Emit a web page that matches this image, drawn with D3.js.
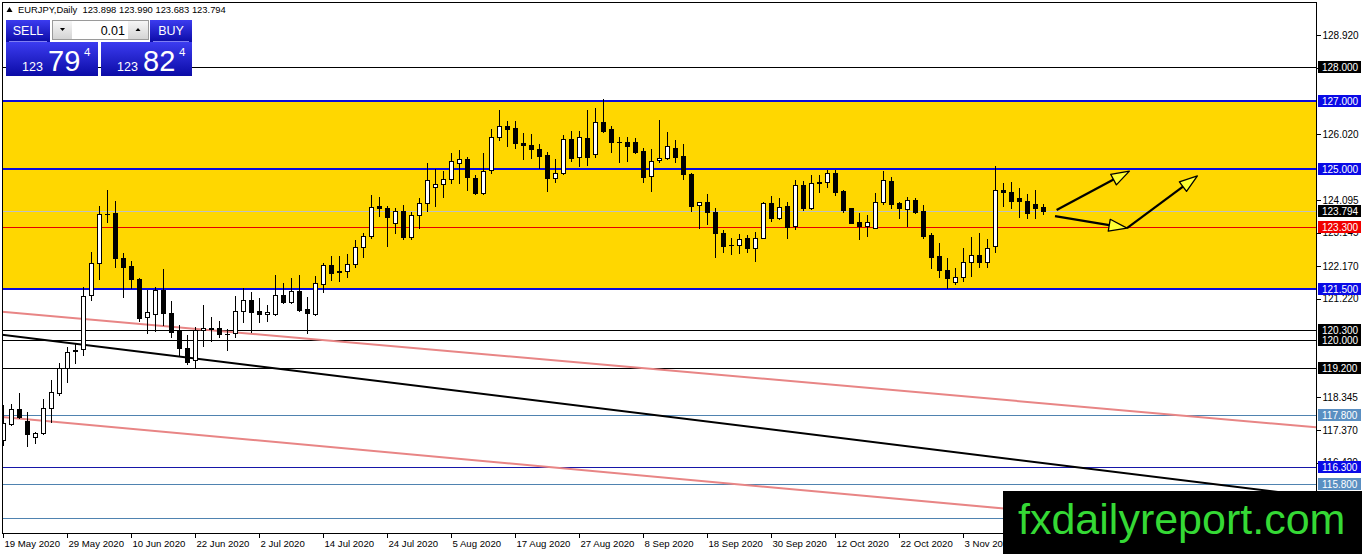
<!DOCTYPE html>
<html>
<head>
<meta charset="utf-8">
<script src="https://d3js.org/d3.v7.min.js"></script>
<style>
body { margin: 0; background: #fff; overflow: hidden; }
svg { display: block; font-family: "Liberation Sans", Arial, sans-serif; }
</style>
</head>
<body>
<svg id="chart" width="1362" height="554"></svg>
<script>
// EURJPY daily, one candle per trading day starting 19 May 2020
var dateLabels = ['19 May 2020', '29 May 2020', '10 Jun 2020', '22 Jun 2020', '2 Jul 2020', '14 Jul 2020',
	'24 Jul 2020', '5 Aug 2020', '17 Aug 2020', '27 Aug 2020', '8 Sep 2020', '18 Sep 2020',
	'30 Sep 2020', '12 Oct 2020', '22 Oct 2020', '3 Nov 2020'];

var opens = [117.08, 117.54, 117.98, 117.65, 117.16, 117.28, 118.01, 118.45, 119.18, 119.70,
	119.74, 121.32, 122.25, 123.68, 123.71, 122.40, 122.17, 121.78, 120.67, 120.76,
	121.47, 120.79, 120.27, 119.76, 119.42, 120.30, 120.33, 120.35, 120.17, 120.20,
	120.86, 121.18, 120.86, 120.77, 120.76, 121.32, 121.13, 121.44, 120.91, 120.76,
	121.64, 122.20, 121.99, 122.03, 122.22, 122.72, 123.05, 123.93, 123.88, 123.42,
	123.78, 123.03, 123.66, 124.01, 124.49, 124.56, 124.71, 125.19, 125.29, 124.76,
	124.30, 124.98, 125.94, 126.27, 126.20, 125.78, 125.71, 125.60, 125.42, 124.74,
	124.88, 125.89, 125.35, 125.91, 125.44, 126.38, 126.18, 125.81, 125.79, 125.79,
	125.54, 124.80, 125.27, 125.32, 125.62, 125.38, 124.86, 123.95, 124.04, 123.76,
	123.15, 122.79, 122.79, 122.98, 122.71, 123.00, 124.01, 123.57, 123.93, 123.35,
	124.54, 123.88, 124.62, 124.62, 124.88, 124.37, 123.86, 123.45, 123.35, 123.29,
	124.04, 124.66, 124.01, 123.83, 124.10, 123.78, 123.08, 122.46, 122.05, 121.70,
	121.86, 122.30, 122.49, 122.30, 122.77, 124.40, 124.35, 124.15, 124.07, 123.98,
	123.898];
var highs = [118.10, 118.13, 118.45, 117.89, 117.32, 118.28, 118.84, 119.33, 119.81, 119.91,
	121.57, 122.57, 123.93, 124.40, 124.07, 122.54, 122.32, 121.83, 121.47, 121.57,
	122.08, 121.16, 120.45, 120.15, 120.40, 121.03, 120.69, 120.56, 120.33, 121.30,
	121.52, 121.42, 121.24, 121.03, 121.91, 121.67, 121.81, 121.91, 121.27, 121.88,
	122.25, 122.46, 122.46, 122.52, 122.93, 123.15, 124.25, 124.18, 123.93, 123.86,
	123.96, 123.76, 124.15, 125.19, 125.00, 124.96, 125.47, 125.57, 125.37, 124.83,
	125.49, 126.17, 126.74, 126.42, 126.42, 126.05, 126.03, 125.73, 125.52, 125.30,
	126.01, 126.12, 126.12, 126.74, 126.80, 127.06, 126.28, 125.96, 125.96, 125.93,
	125.62, 125.59, 126.44, 126.10, 125.86, 125.73, 124.88, 124.05, 124.27, 123.88,
	123.23, 123.00, 123.10, 123.08, 123.18, 124.05, 124.22, 124.15, 124.04, 124.69,
	124.66, 124.83, 124.83, 124.98, 124.98, 124.40, 123.88, 123.71, 123.66, 124.30,
	124.95, 124.79, 124.05, 124.20, 124.17, 123.96, 123.13, 122.84, 122.42, 122.10,
	122.69, 123.03, 123.13, 122.96, 125.11, 124.59, 124.64, 124.46, 124.27, 124.40,
	123.990];
var lows = [116.93, 117.52, 117.72, 116.91, 117.00, 117.26, 117.62, 118.40, 118.79, 119.34,
	119.57, 121.18, 121.79, 123.47, 122.15, 121.27, 121.52, 120.56, 120.20, 120.28,
	120.45, 120.09, 119.57, 119.30, 119.23, 119.84, 119.99, 120.10, 119.73, 120.10,
	120.52, 120.23, 120.54, 120.56, 120.74, 121.10, 121.08, 120.86, 120.20, 120.74,
	121.40, 121.76, 121.73, 121.86, 122.15, 122.43, 123.00, 123.64, 122.77, 123.15,
	122.95, 122.95, 123.27, 123.78, 123.93, 124.20, 124.59, 124.61, 124.40, 124.28,
	124.28, 124.90, 125.86, 125.68, 125.63, 125.29, 125.32, 125.05, 124.38, 124.62,
	124.86, 125.24, 125.10, 125.13, 125.35, 126.10, 125.52, 125.22, 125.24, 125.47,
	124.64, 124.38, 125.22, 125.30, 125.22, 124.71, 123.78, 123.27, 123.39, 122.44,
	122.59, 122.51, 122.54, 122.57, 122.33, 122.98, 123.49, 123.55, 122.98, 123.25,
	123.81, 123.84, 124.33, 124.47, 124.25, 123.76, 123.42, 122.95, 123.06, 123.27,
	123.98, 123.88, 123.59, 123.35, 123.71, 123.00, 122.10, 121.86, 121.52, 121.64,
	121.73, 121.89, 122.15, 122.15, 122.59, 123.94, 123.88, 123.61, 123.59, 123.57,
	123.683];
var closes = [117.58, 117.98, 117.75, 117.25, 117.28, 118.01, 118.48, 119.18, 119.66, 119.72,
	121.30, 122.25, 123.68, 123.70, 122.40, 122.15, 121.78, 120.66, 120.82, 121.47,
	120.79, 120.23, 119.76, 119.35, 120.30, 120.37, 120.35, 120.17, 120.19, 120.86,
	121.18, 120.83, 120.76, 120.83, 121.32, 121.13, 121.44, 120.88, 120.81, 121.67,
	122.20, 121.98, 122.03, 122.22, 122.72, 123.05, 123.91, 123.86, 123.61, 123.78,
	123.03, 123.66, 124.01, 124.69, 124.56, 124.71, 125.24, 125.29, 124.79, 124.30,
	124.95, 125.94, 126.27, 126.17, 125.76, 125.70, 125.59, 125.40, 124.74, 124.88,
	125.89, 125.34, 125.94, 125.35, 126.38, 126.12, 125.81, 125.80, 125.69, 125.52,
	124.79, 125.25, 125.32, 125.69, 125.37, 124.86, 123.94, 124.04, 123.74, 123.13,
	122.77, 122.80, 122.96, 122.71, 123.00, 124.01, 123.57, 123.91, 123.32, 124.54,
	123.86, 124.59, 124.59, 124.88, 124.35, 123.81, 123.44, 123.35, 123.45, 124.04,
	124.69, 123.98, 123.86, 124.10, 123.76, 123.05, 122.44, 122.05, 121.81, 121.86,
	122.30, 122.49, 122.30, 122.69, 124.40, 124.35, 124.08, 124.07, 123.71, 123.88,
	123.794];

// price scale labels left visible by the level tags
var axisTicks = [128.920, 127.970, 126.020, 124.095, 123.145, 122.170,
	121.220, 118.345, 117.370, 116.420];

// horizontal objects on the chart
var zone = [121.5, 127.0];
var blueLevels = [127.0, 125.0, 121.5];
var blackLevels = [128.0, 120.3, 120.0, 119.2];
var steelLevels = [117.8, 115.8, 114.8];
var navyLevels = [116.3];
var redLevel = 123.3;
var bidPrice = 123.794;

// trend lines and arrows as [bar index, price] points
var trendUpper = [[0, 120.83], [160, 117.54]];
var trendLower = [[0, 117.75], [125, 115.08]];
var trendBlack = [[0, 120.16], [130, 116.41]];
var arrows = [
	[[131.7, 123.81], [140.8, 124.95]],
	[[131.5, 123.63], [140.5, 123.28]],
	[[140.5, 123.28], [149.3, 124.81]]
];

var headerText = 'EURJPY,Daily  123.898 123.990 123.683 123.794';

var plot = { left: 2, right: 1316, top: 2, bottom: 533 };
var watermarkTop = 491;
var svg = d3.select('#chart');

var x = d3.scaleLinear().domain([0, 1]).range([3, 11]);
var y = d3.scaleLinear().domain([zone[0], zone[1]]).range([289, 101]);

var defs = svg.append('defs');
defs.append('clipPath').attr('id', 'plot-clip')
	.append('rect')
		.attr('x', plot.left)
		.attr('y', plot.top)
		.attr('width', plot.right - plot.left)
		.attr('height', plot.bottom - plot.top);

function gradient(id, top, bottom) {
	var g = defs.append('linearGradient').attr('id', id)
		.attr('x1', 0).attr('y1', 0).attr('x2', 0).attr('y2', 1);
	g.append('stop').attr('offset', '0%').attr('stop-color', top);
	g.append('stop').attr('offset', '100%').attr('stop-color', bottom);
}
gradient('blue-btn', '#3c3cf0', '#0b0ba6');
gradient('gray-btn', '#f6f6f6', '#d4d4d4');

var area = svg.append('g').attr('clip-path', 'url(#plot-clip)');

function px(v) { return Math.round(v) + 0.5; }

function drawZone() {
	area.append('rect')
		.attr('x', plot.left)
		.attr('y', y(zone[1]))
		.attr('width', plot.right - plot.left)
		.attr('height', y(zone[0]) - y(zone[1]))
		.attr('fill', '#ffd700');
}
drawZone();

function hline(price, color, width) {
	var yy = width > 1 ? Math.round(y(price)) : px(y(price));
	area.append('line')
		.attr('x1', plot.left).attr('x2', plot.right)
		.attr('y1', yy).attr('y2', yy)
		.attr('stroke', color)
		.attr('stroke-width', width)
		.attr('shape-rendering', 'crispEdges');
}

function drawLevels() {
	hline(bidPrice, '#c0c0c0', 1);
	hline(redLevel, '#e60000', 1);
	blackLevels.forEach(function(p) { hline(p, '#000', 1); });
	steelLevels.forEach(function(p) { hline(p, '#4f83b0', 1); });
	navyLevels.forEach(function(p) { hline(p, '#1616a8', 1); });
	blueLevels.forEach(function(p) { hline(p, '#0a0adc', 2); });
}
drawLevels();

function trend(points, color, width) {
	var x0 = x(points[0][0]), y0 = y(points[0][1]);
	var x1 = x(points[1][0]), y1 = y(points[1][1]);
	var slope = (y1 - y0) / (x1 - x0);
	area.append('line')
		.attr('x1', plot.left).attr('y1', y0 + slope * (plot.left - x0))
		.attr('x2', plot.right).attr('y2', y0 + slope * (plot.right - x0))
		.attr('stroke', color)
		.attr('stroke-width', width);
}

function drawTrends() {
	trend(trendUpper, '#e88585', 2);
	trend(trendLower, '#e88585', 2);
	trend(trendBlack, '#000', 2);
}
drawTrends();

function drawArrows() {
	arrows.forEach(function(a) {
		var sx = x(a[0][0]), sy = y(a[0][1]);
		var tx = x(a[1][0]), ty = y(a[1][1]);
		var ang = Math.atan2(ty - sy, tx - sx);
		var len = 18, half = 6;
		var bx = tx - len * Math.cos(ang), by = ty - len * Math.sin(ang);
		var nx = -Math.sin(ang) * half, ny = Math.cos(ang) * half;
		area.append('line')
			.attr('x1', sx).attr('y1', sy)
			.attr('x2', bx).attr('y2', by)
			.attr('stroke', '#000')
			.attr('stroke-width', 2.2);
		area.append('path')
			.attr('d', 'M' + tx + ',' + ty + 'L' + (bx + nx) + ',' + (by + ny) + 'L' + (bx - nx) + ',' + (by - ny) + 'Z')
			.attr('fill', '#ffff33')
			.attr('stroke', '#000')
			.attr('stroke-width', 1.3)
			.attr('stroke-linejoin', 'round');
	});
}
drawArrows();

function drawCandles() {
	var g = area.append('g').attr('shape-rendering', 'crispEdges');
	opens.forEach(function(o, i) {
		var c = closes[i];
		var cx = Math.round(x(i));
		g.append('line')
			.attr('x1', cx + 0.5).attr('x2', cx + 0.5)
			.attr('y1', Math.round(y(highs[i]))).attr('y2', Math.round(y(lows[i])) + 1)
			.attr('stroke', '#000');
		var top = Math.round(y(Math.max(o, c)));
		var bot = Math.round(y(Math.min(o, c)));
		if (bot - top < 1) {
			g.append('line')
				.attr('x1', cx - 2).attr('x2', cx + 3)
				.attr('y1', top + 0.5).attr('y2', top + 0.5)
				.attr('stroke', '#000');
		} else {
			g.append('rect')
				.attr('x', cx - 1.5).attr('y', top + 0.5)
				.attr('width', 4).attr('height', bot - top)
				.attr('fill', c >= o ? '#fff' : '#000')
				.attr('stroke', '#000');
		}
	});
}
drawCandles();

function drawFrame() {
	svg.append('rect')
		.attr('x', plot.left + 0.5).attr('y', plot.top + 0.5)
		.attr('width', plot.right - plot.left).attr('height', plot.bottom - plot.top)
		.attr('fill', 'none')
		.attr('stroke', '#000')
		.attr('shape-rendering', 'crispEdges');
}
drawFrame();

function drawAxes() {
	var right = svg.append('g')
		.attr('transform', 'translate(' + (plot.right + 0.5) + ',0)');
	right.call(d3.axisRight(y).tickValues(axisTicks).tickFormat(d3.format('.3f')).tickSize(4).tickPadding(2))
		.call(function(g) { g.select('.domain').remove(); })
		.call(function(g) {
			g.selectAll('text').attr('font-size', 10).attr('font-family', '"Liberation Sans", Arial, sans-serif').attr('fill', '#000');
			g.selectAll('line').attr('stroke', '#000').attr('shape-rendering', 'crispEdges');
		});

	var xTicks = dateLabels.map(function(d, k) { return k * 8; });
	var bottom = svg.append('g')
		.attr('transform', 'translate(0,' + (plot.bottom + 0.5) + ')');
	bottom.call(d3.axisBottom(x).tickValues(xTicks).tickFormat(function(d, k) { return dateLabels[k]; }).tickSize(4).tickPadding(3))
		.call(function(g) { g.select('.domain').remove(); })
		.call(function(g) {
			g.selectAll('.tick').attr('transform', function(d) { return 'translate(' + (Math.round(x(d)) + 0.5) + ',0)'; });
			g.selectAll('text')
				.attr('text-anchor', 'start')
				.attr('x', 1)
				.attr('font-size', 9.6)
				.attr('font-family', '"Liberation Sans", Arial, sans-serif')
				.attr('fill', '#000');
			g.selectAll('line').attr('stroke', '#000').attr('shape-rendering', 'crispEdges');
		});
}
drawAxes();

function priceTag(price, bg) {
	var yy = Math.round(y(price));
	if (yy > watermarkTop) return; // hidden under the watermark
	svg.append('rect')
		.attr('x', plot.right + 2).attr('y', yy - 6)
		.attr('width', 43).attr('height', 12)
		.attr('fill', bg);
	svg.append('text')
		.attr('x', plot.right + 6).attr('y', yy + 0.5)
		.attr('dominant-baseline', 'central')
		.attr('font-size', 10)
		.attr('fill', '#fff')
		.text(d3.format('.3f')(price));
}

function drawTags() {
	blackLevels.forEach(function(p) { priceTag(p, '#000'); });
	blueLevels.forEach(function(p) { priceTag(p, '#0a0ae6'); });
	navyLevels.forEach(function(p) { priceTag(p, '#0a0ae6'); });
	steelLevels.forEach(function(p) { priceTag(p, '#5a8fc2'); });
	priceTag(redLevel, '#f00000');
	priceTag(bidPrice, '#000');
}
drawTags();

function drawHeader() {
	svg.append('path')
		.attr('d', 'M6.5,12 L9.5,7 L12.5,12 Z')
		.attr('fill', '#000');
	svg.append('text')
		.attr('x', 18).attr('y', 13)
		.attr('font-size', 9.4)
		.attr('fill', '#000')
		.attr('xml:space', 'preserve')
		.text(headerText);
}
drawHeader();

function drawTradePanel() {
	var p = svg.append('g');
	// sell / buy buttons
	[[6, 44, 'SELL'], [150, 42, 'BUY']].forEach(function(b) {
		p.append('rect').attr('x', b[0]).attr('y', 20).attr('width', b[1]).attr('height', 22)
			.attr('fill', 'url(#blue-btn)');
		p.append('line').attr('x1', b[0] + 3).attr('x2', b[0] + b[1] - 3)
			.attr('y1', 41.5).attr('y2', 41.5)
			.attr('stroke', '#7f7ff2').attr('shape-rendering', 'crispEdges');
		p.append('text').attr('x', b[0] + b[1] / 2).attr('y', 35)
			.attr('text-anchor', 'middle').attr('font-size', 12.5).attr('fill', '#fff')
			.text(b[2]);
	});
	// lot size spinner
	p.append('rect').attr('x', 52.5).attr('y', 20.5).attr('width', 96).attr('height', 19)
		.attr('fill', '#fff').attr('stroke', '#9a9a9a');
	p.append('rect').attr('x', 53).attr('y', 21).attr('width', 19).attr('height', 18).attr('fill', 'url(#gray-btn)');
	p.append('rect').attr('x', 128).attr('y', 21).attr('width', 20).attr('height', 18).attr('fill', 'url(#gray-btn)');
	p.append('path').attr('d', 'M60,28 L65,28 L62.5,31 Z').attr('fill', '#000');
	p.append('path').attr('d', 'M135.5,31 L140.5,31 L138,28 Z').attr('fill', '#000');
	p.append('text').attr('x', 125).attr('y', 34.5)
		.attr('text-anchor', 'end').attr('font-size', 12.5).attr('fill', '#000')
		.text('0.01');
	// price boxes
	[[6, 92, '79'], [101, 91, '82']].forEach(function(b) {
		p.append('rect').attr('x', b[0]).attr('y', 42).attr('width', b[1]).attr('height', 34)
			.attr('fill', 'url(#blue-btn)');
		p.append('text').attr('x', b[0] + 16).attr('y', 71)
			.attr('font-size', 12.5).attr('fill', '#fff').text('123');
		p.append('text').attr('x', b[0] + 42).attr('y', 71)
			.attr('font-size', 29).attr('fill', '#fff').text(b[2]);
		p.append('text').attr('x', b[0] + 78).attr('y', 56)
			.attr('font-size', 11.5).attr('fill', '#fff').text('4');
	});
}
drawTradePanel();

function drawWatermark() {
	svg.append('rect')
		.attr('x', 1003).attr('y', watermarkTop)
		.attr('width', 359).attr('height', 63)
		.attr('fill', '#000');
	svg.append('text')
		.attr('x', 1018).attr('y', 534)
		.attr('font-size', 43)
		.attr('fill', '#35d935')
		.text('fxdailyreport.com');
}
drawWatermark();
</script>
</body>
</html>
